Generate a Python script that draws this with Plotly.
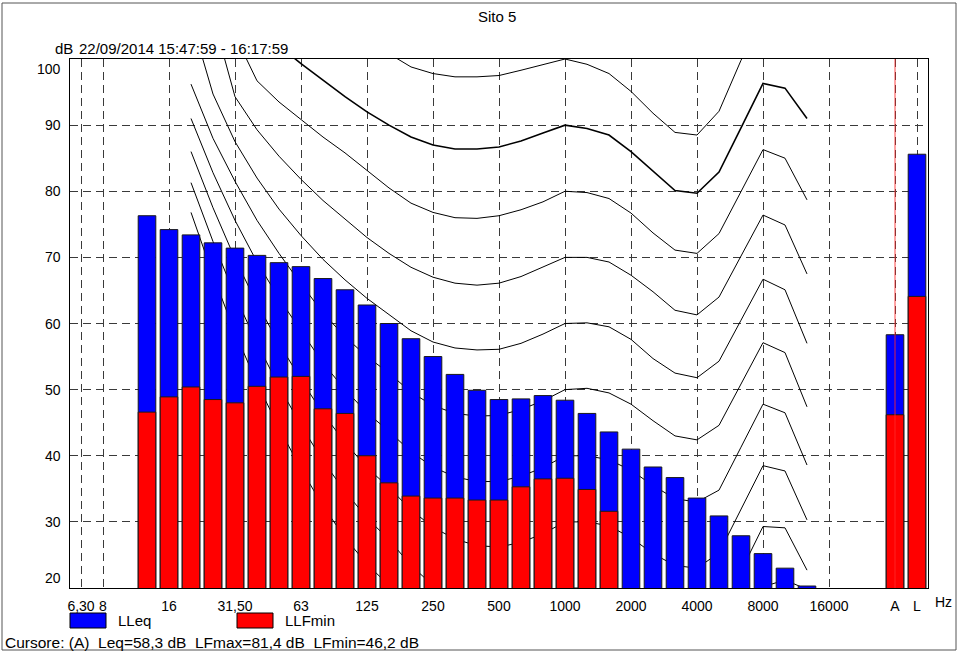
import plotly.graph_objects as go

# ---------------- data ----------------
bands = ["6.3", "8", "10", "12.5", "16", "20", "25", "31.5", "40", "50", "63", "80", "100",
         "125", "160", "200", "250", "315", "400", "500", "630", "800", "1000", "1250",
         "1600", "2000", "2500", "3150", "4000", "5000", "6300", "8000", "10000", "12500",
         "16000", "20000", "25000", "A", "L"]

tick_bands = ["6.3", "8", "16", "31.5", "63", "125", "250", "500", "1000", "2000", "4000",
              "8000", "16000", "A", "L"]
tick_text = ["6,30", "8", "16", "31,50", "63", "125", "250", "500", "1000", "2000", "4000",
             "8000", "16000", "A", "L"]

y_ticks = [20, 30, 40, 50, 60, 70, 80, 90, 100]
y_range = [20, 100]

bar_bands = ["12.5", "16", "20", "25", "31.5", "40", "50", "63", "80", "100", "125", "160",
             "200", "250", "315", "400", "500", "630", "800", "1000", "1250", "1600", "2000",
             "2500", "3150", "4000", "5000", "6300", "8000", "10000", "12500", "A", "L"]
lleq = [76.3, 74.2, 73.4, 72.2, 71.4, 70.3, 69.2, 68.6, 66.8, 65.1, 62.8, 60.0,
        57.7, 55.0, 52.3, 49.9, 48.5, 48.6, 49.1, 48.4, 46.4, 43.6, 41.0,
        38.3, 36.7, 33.6, 30.9, 27.9, 25.2, 23.0, 20.3, 58.3, 85.6]
llfmin = [46.6, 48.9, 50.4, 48.5, 48.0, 50.5, 51.9, 52.0, 47.1, 46.4, 40.0, 35.9,
          33.9, 33.6, 33.6, 33.3, 33.3, 35.3, 36.5, 36.6, 34.9, 31.6, None,
          None, None, None, None, None, None, None, None, 46.2, 64.1]

# equal-loudness contours (20 Hz .. 12.5 kHz)
contour_bands = ["20", "25", "31.5", "40", "50", "63", "80", "100", "125", "160", "200",
                 "250", "315", "400", "500", "630", "800", "1000", "1250", "1600", "2000",
                 "2500", "3150", "4000", "5000", "6300", "8000", "10000", "12500"]
phon_100 = [130, 126, 122, 118, 114, 110.5, 107.5, 105, 102.7, 100.8, 98.8,
            97.8, 97.3, 97.3, 97.5, 98.3, 99.1, 100.0, 99.2, 97.8, 95.1,
            91.8, 88.9, 88.5, 92.1, 99.8, 106.5, 106, 104]
phon_90 = [117, 112.5, 108.5, 105, 102, 99.3, 96.8, 94.3, 92.0, 90.0, 88.2,
           87.0, 86.4, 86.4, 86.7, 87.6, 88.8, 90.0, 89.5, 88.5, 86.0,
           83.1, 80.1, 79.7, 82.9, 89.6, 96.3, 95.6, 91.0]
phon_80 = [122, 111, 103.6, 96.7, 93.5, 90.8, 88.2, 85.8, 83.2, 80.5, 78.2,
           76.8, 76.0, 75.9, 76.3, 77.2, 78.4, 80.0, 79.8, 78.9, 76.7,
           73.7, 71.1, 70.6, 73.6, 79.9, 86.3, 85.0, 78.7]
phon_70 = [118, 106.4, 94.3, 89.3, 85.3, 81.8, 78.6, 75.8, 73.0, 70.6, 68.5,
           67.0, 66.1, 65.8, 66.1, 67.1, 68.5, 70.0, 70.0, 69.3, 67.3,
           64.8, 62.0, 61.3, 64.0, 70.2, 76.4, 74.9, 67.5]
phon_60 = [106.1, 94.7, 87.5, 82.0, 77.3, 73.3, 69.7, 66.6, 63.8, 61.4, 58.9,
           57.2, 56.3, 56.0, 56.1, 57.0, 58.4, 60.0, 60.1, 59.5, 57.6,
           54.7, 52.5, 51.8, 54.3, 60.5, 66.7, 65.1, 57.0]
phon_50 = [96.2, 88.0, 81.5, 75.6, 70.6, 66.0, 61.6, 58.0, 55.0, 52.5, 49.6,
           47.6, 46.4, 46.0, 46.1, 47.0, 48.3, 50.0, 50.2, 49.5, 47.8,
           45.3, 43.0, 42.4, 44.6, 50.9, 57.1, 55.6, 47.4]
phon_40 = [91.0, 82.8, 75.6, 69.3, 63.8, 58.8, 54.0, 50.0, 46.5, 43.7, 40.6,
           38.3, 36.8, 36.1, 36.1, 36.9, 38.2, 40.0, 40.0, 39.4, 37.8,
           35.5, 33.5, 33.0, 34.8, 41.3, 47.8, 46.5, 38.6]
phon_30 = [86.0, 77.5, 69.8, 63.0, 57.0, 51.5, 46.4, 42.0, 38.2, 35.2, 31.8,
           29.2, 27.4, 26.4, 26.2, 26.9, 28.2, 30.0, 30.0, 29.4, 27.6,
           25.2, 23.4, 23.0, 25.3, 31.9, 38.5, 37.7, 30.3]
phon_20 = [81.3, 72.4, 64.2, 57.0, 50.5, 44.6, 39.2, 34.6, 30.6, 27.3, 23.4,
           20.4, 18.2, 16.9, 16.4, 17.0, 18.2, 20.0, 20.0, 19.4, 17.5,
           15.2, 13.4, 13.0, 15.8, 22.5, 29.3, 29.1, 22.7]
phon_10 = [76.8, 67.3, 58.6, 51.0, 44.2, 38.0, 32.4, 27.6, 23.6, 20.4, 16.5,
           12.8, 10.0, 8.0, 7.0, 7.3, 8.3, 10.0, 10.0, 9.4, 7.5,
           5.0, 3.4, 3.2, 6.5, 13.5, 20.2, 21.2, 19.8]
contours = [("100", phon_100), ("90", phon_90), ("80", phon_80), ("70", phon_70),
            ("60", phon_60), ("50", phon_50), ("40", phon_40), ("30", phon_30),
            ("20", phon_20), ("10", phon_10)]

# ---------------- figure ----------------
FONT = "Liberation Sans, Arial, sans-serif"
fig = go.Figure()

for name, vals in contours:
    fig.add_trace(go.Scatter(
        x=contour_bands, y=vals, mode="lines", name=name + " phon",
        line=dict(color="black", width=1.6 if name == "90" else 1),
        xaxis="x", yaxis="y", showlegend=False, hoverinfo="skip"))

fig.add_trace(go.Bar(x=bar_bands, y=lleq, name="LLeq", width=0.8,
                     marker=dict(color="#0000ff", line=dict(color="#1a1a1a", width=1)),
                     xaxis="x2", yaxis="y2", showlegend=False))
fig.add_trace(go.Bar(x=bar_bands, y=llfmin, name="LLFmin", width=0.8,
                     marker=dict(color="#ff0000", line=dict(color="#1a1a1a", width=1)),
                     xaxis="x2", yaxis="y2", showlegend=False))
# cursor at A
fig.add_trace(go.Scatter(x=["A", "A"], y=y_range, mode="lines",
                         line=dict(color="rgba(255,40,40,0.85)", width=1),
                         xaxis="x2", yaxis="y2", showlegend=False, hoverinfo="skip"))

xr = [-0.5, len(bands) - 0.5]
fig.update_layout(
    width=964, height=652,
    margin=dict(l=70, r=36, t=59, b=64),
    paper_bgcolor="white", plot_bgcolor="white",
    barmode="overlay",
    font=dict(family=FONT, size=15, color="black"),
    xaxis=dict(type="category", categoryorder="array", categoryarray=bands, range=xr,
               tickmode="array", tickvals=tick_bands, ticktext=tick_text,
               showgrid=True, gridcolor="#3a3a3a", gridwidth=1, griddash="8px,5px",
               showline=True, linecolor="black", linewidth=1, mirror=True,
               ticks="", ticklabelstandoff=5, tickfont=dict(size=14), zeroline=False),
    yaxis=dict(range=y_range, tickmode="array", tickvals=y_ticks, showticklabels=False,
               showgrid=True, gridcolor="#3a3a3a", gridwidth=1, griddash="8px,5px",
               showline=True, linecolor="black", linewidth=1, mirror=True,
               ticks="", zeroline=False),
    xaxis2=dict(type="category", categoryorder="array", categoryarray=bands, range=xr,
                overlaying="x", visible=False),
    yaxis2=dict(range=y_range, overlaying="y", visible=False),
)

def X(px):
    return (px - 70) / 858.0

def Y(py):
    return (588 - py) / 529.0

ann = []
for v in y_ticks:
    anchor = "top" if v == y_range[1] else ("bottom" if v == y_range[0] else "middle")
    ann.append(dict(x=0, xref="paper", y=v, yref="y", text=str(v), showarrow=False,
                    xanchor="right", yanchor=anchor, xshift=-7, font=dict(size=14)))
ann += [
    dict(x=X(497), y=Y(17), text="Sito 5", xanchor="center", yanchor="middle", font=dict(size=15)),
    dict(x=X(64), y=Y(48), text="dB", xanchor="center", yanchor="middle", font=dict(size=15)),
    dict(x=X(77), y=Y(48), text="22/09/2014 15:47:59 - 16:17:59", xanchor="left",
         yanchor="middle", font=dict(size=15)),
    dict(x=X(943), y=Y(602), text="Hz", xanchor="center", yanchor="middle", font=dict(size=14)),
    dict(x=X(116), y=Y(620), text="LLeq", xanchor="left", yanchor="middle", font=dict(size=15)),
    dict(x=X(283), y=Y(620), text="LLFmin", xanchor="left", yanchor="middle", font=dict(size=15)),
    dict(x=X(3), y=Y(642), text="Cursore: (A)  Leq=58,3 dB  LFmax=81,4 dB  LFmin=46,2 dB",
         xanchor="left", yanchor="middle", font=dict(size=15.5)),
]
for a in ann[len(y_ticks):]:
    a.update(xref="paper", yref="paper", showarrow=False)
fig.update_layout(annotations=ann)

fig.update_layout(shapes=[
    dict(type="rect", xref="paper", yref="paper", x0=X(70), x1=X(106), y0=Y(628), y1=Y(613),
         fillcolor="#0000ff", line=dict(color="black", width=1)),
    dict(type="rect", xref="paper", yref="paper", x0=X(237), x1=X(273), y0=Y(628), y1=Y(613),
         fillcolor="#ff0000", line=dict(color="black", width=1)),
    dict(type="rect", xref="paper", yref="paper", x0=X(2), x1=X(956), y0=Y(650), y1=Y(3),
         fillcolor="rgba(0,0,0,0)", line=dict(color="#555555", width=1), layer="below"),
])

fig.write_html("out.html", config={"displayModeBar": False},
               post_script="document.body.style.margin='0px';")
